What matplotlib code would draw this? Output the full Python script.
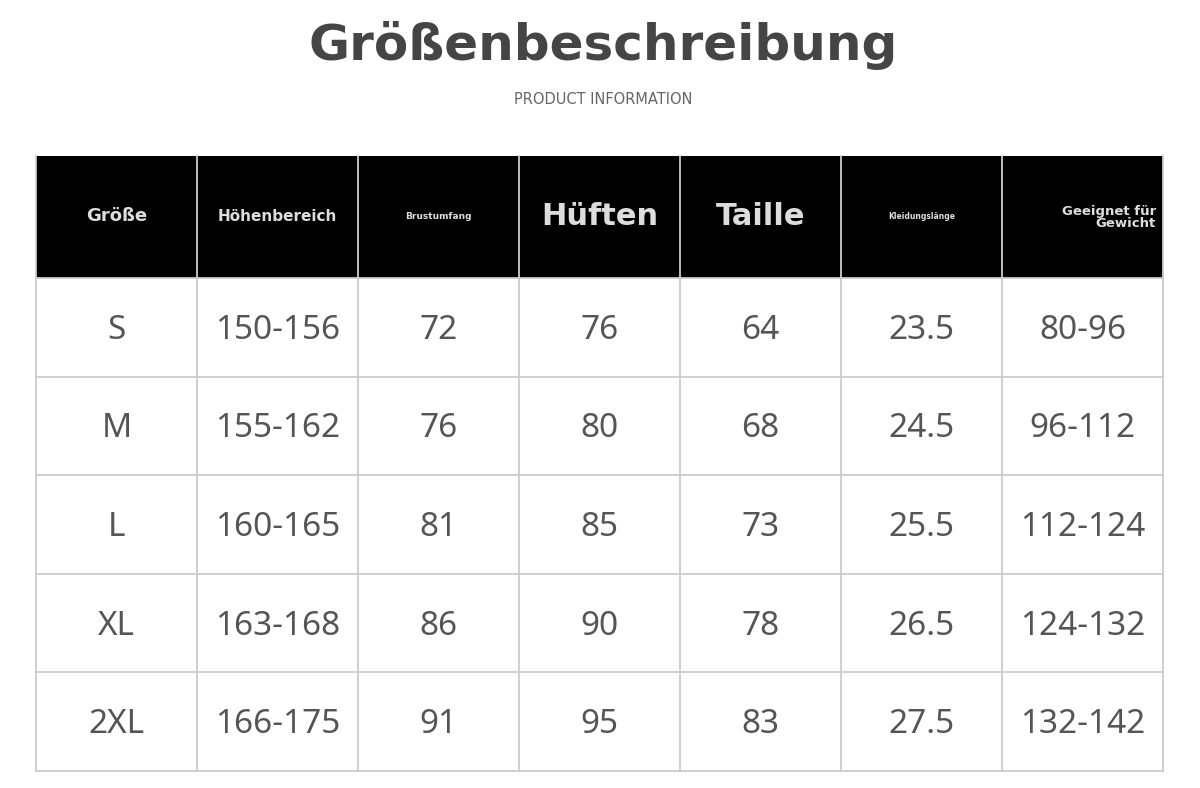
import matplotlib.pyplot as plt
import matplotlib.patches as patches

title = 'Größenbeschreibung'
subtitle = 'PRODUCT INFORMATION'
headers = ['Größe', 'Höhenbereich', 'Brustumfang', 'Hüften', 'Taille', 'Kleidungslänge', 'Geeignet für\nGewicht']
header_sizes = [13, 11, 6.5, 22, 22, 5.5, 9.5]
sizes = ['S', 'M', 'L', 'XL', '2XL']
height = ['150-156', '155-162', '160-165', '163-168', '166-175']
chest = ['72', '76', '81', '86', '91']
hips = ['76', '80', '85', '90', '95']
waist = ['64', '68', '73', '78', '83']
length = ['23.5', '24.5', '25.5', '26.5', '27.5']
weight = ['80-96', '96-112', '112-124', '124-132', '132-142']

cols = [sizes, height, chest, hips, waist, length, weight]

fig = plt.figure(figsize=(12, 7.88), dpi=100)
ax = fig.add_axes([0, 0, 1, 1])
ax.set_xlim(0, 1200)
ax.set_ylim(788, 0)
ax.axis('off')

x0, x1 = 36, 1163
colw = (x1 - x0) / 7
y_head0, y_head1 = 156, 278
rowh = (771 - 278) / 5

ax.text(603, 45, title, ha='center', va='center', fontsize=36, fontweight='bold',
        color='#454545', family='DejaVu Sans')
ax.text(603, 99, subtitle, ha='center', va='center', fontsize=10.5, color='#666666',
        family='DejaVu Sans')

# header block
ax.add_patch(patches.Rectangle((x0, y_head0), x1 - x0, y_head1 - y_head0,
                               facecolor='black', edgecolor='none'))
for i, h in enumerate(headers):
    cx = x0 + colw * (i + 0.5)
    if i == 6:
        ax.text(x0 + colw * 7 - 7, 217, h, ha='right', va='center', fontsize=header_sizes[i],
                fontweight='bold', color='#dddddd', family='DejaVu Sans', linespacing=0.9)
    else:
        ax.text(cx, 216, h, ha='center', va='center', fontsize=header_sizes[i],
                fontweight='bold', color='#dddddd', family='DejaVu Sans')

# body
for r in range(5):
    cy = y_head1 + rowh * (r + 0.5)
    for c, col in enumerate(cols):
        ax.text(x0 + colw * (c + 0.5), cy + 3, col[r], ha='center', va='center',
                fontsize=24, color='#555555', family='Noto Sans')

# grid lines
for c in range(8):
    x = x0 + colw * c
    ax.plot([x, x], [y_head0, 771], color='#cccccc', lw=1.3)
for r in range(6):
    y = y_head1 + rowh * r
    ax.plot([x0, x1], [y, y], color='#cccccc', lw=1.3)

fig.savefig('out.png', dpi=100, facecolor='white')
